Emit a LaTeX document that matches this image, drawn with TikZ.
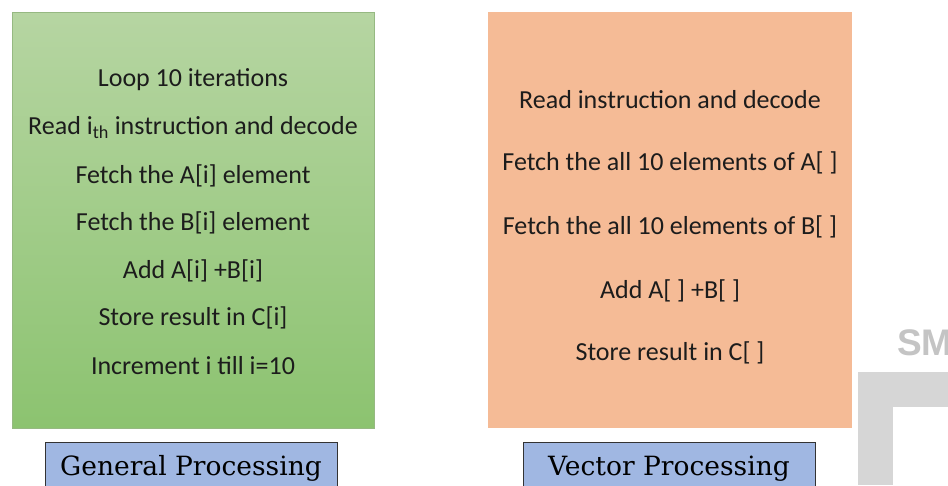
\documentclass[tikz,border=0pt]{standalone}
\usepackage{fontspec}
\setmainfont{Carlito}
\newfontfamily\labelfont{DejaVu Serif}
\newfontfamily\markfont{Liberation Sans}
\definecolor{greentop}{RGB}{182,213,162}
\definecolor{greenbot}{RGB}{140,195,112}
\definecolor{greenedge}{RGB}{150,185,130}
\definecolor{peach}{RGB}{245,187,150}
\definecolor{labelblue}{RGB}{160,183,226}
\definecolor{txt}{RGB}{28,28,28}
\definecolor{markgray}{RGB}{214,214,214}
\definecolor{marktext}{RGB}{196,196,196}
\tikzset{
  x=1pt, y=-1pt,
  line/.style={font=\fontsize{26}{26}\selectfont, text=txt, anchor=center, inner sep=0pt},
  caption/.style={draw=black!80, line width=0.8pt, fill=labelblue, minimum width=292pt, minimum height=50pt, anchor=north west, inner sep=0pt},
  captext/.style={font=\labelfont\fontsize{26.5}{26.5}\selectfont, text=black, anchor=base},
}
\begin{document}
\begin{tikzpicture}
\useasboundingbox[fill=white] (0,0) rectangle (948,485);
% scalar loop panel
\shade[top color=greentop, bottom color=greenbot] (12,12) rectangle (374,428);
\draw[greenedge, line width=0.6pt] (12,12) rectangle (374,428);
\node[line] (g1) at (193,80) {Loop 10 iterations};
\node[line] (g2) at (193,128) {Read i\textsubscript{th} instruction and decode};
\node[line] (g3) at (193,176) {Fetch the A[i] element};
\node[line] (g4) at (193,223) {Fetch the B[i] element};
\node[line] (g5) at (193,271) {Add A[i] +B[i]};
\node[line] (g6) at (193,318) {Store result in C[i]};
\node[line] (g7) at (193,366) {Increment i till i=10};
% vector panel
\fill[peach] (488,12) rectangle (852,428);
\node[line] (v1) at (670,100) {Read instruction and decode};
\node[line] (v2) at (670,163) {Fetch the all 10 elements of A[ ]};
\node[line] (v3) at (670,227) {Fetch the all 10 elements of B[ ]};
\node[line] (v4) at (670,291) {Add A[ ] +B[ ]};
\node[line] (v5) at (670,353) {Store result in C[ ]};
% captions
\node[caption] (gcap) at (45,442) {};
\node[captext] (gcapt) at (191,475) {General Processing};
\node[caption] (vcap) at (523,442) {};
\node[captext] (vcapt) at (669,475) {Vector Processing};
% corner mark
\fill[markgray] (858,372) rectangle (948,407);
\fill[markgray] (858,407) rectangle (893,485);
\node[font=\markfont\bfseries\fontsize{37}{37}\selectfont, text=marktext, anchor=base west, inner sep=0pt] (mark) at (897,355) {SM};
\end{tikzpicture}
\end{document}
